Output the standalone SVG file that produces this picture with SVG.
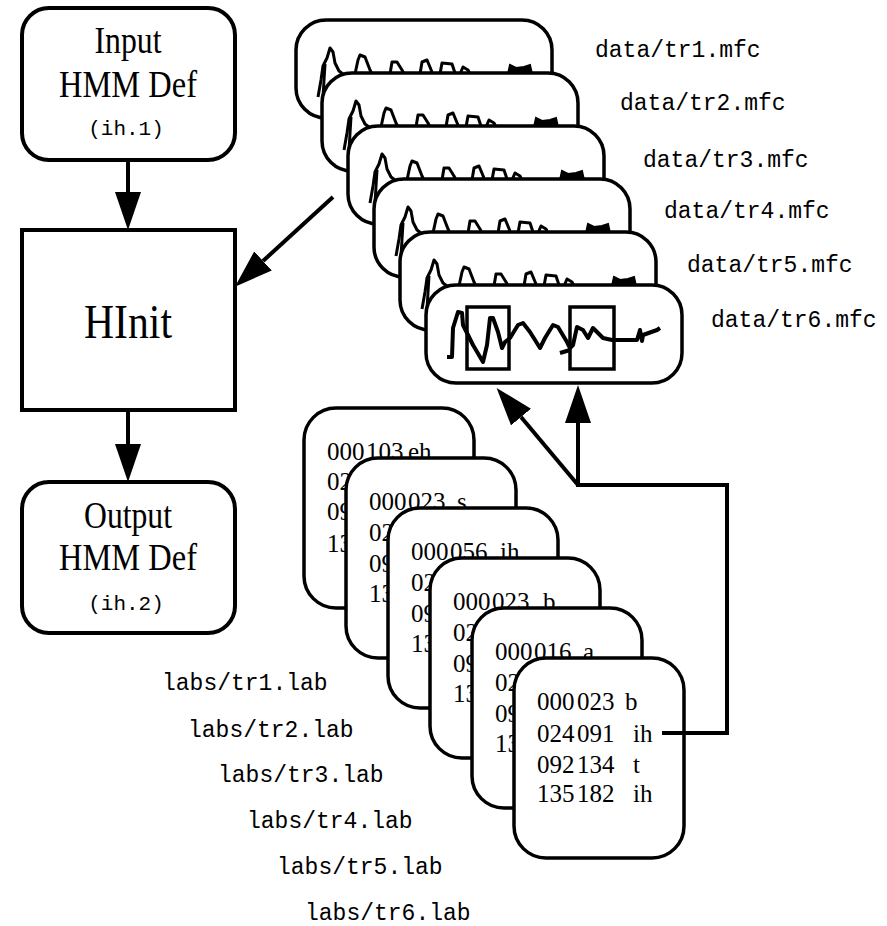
<svg xmlns="http://www.w3.org/2000/svg" width="887" height="926" viewBox="0 0 887 926">
<defs>
<style>
.box{fill:#fff;stroke:#000;stroke-width:4}
.card{fill:#fff;stroke:#000;stroke-width:3.5}
.wave{fill:none;stroke:#000;stroke-width:3;stroke-linejoin:round}
.wave6{fill:none;stroke:#000;stroke-width:4;stroke-linejoin:round}
.sel{fill:none;stroke:#000;stroke-width:3.5}
.serif{font-family:"Liberation Serif","Times New Roman",serif;fill:#000}
.mono{font-family:"Liberation Mono","Courier New",monospace;fill:#000}
.big{font-size:38px}
.lab{font-size:25px}
.fname{font-size:23px}
.conn{fill:none;stroke:#000;stroke-width:4}
</style>
<marker id="ah" markerUnits="userSpaceOnUse" viewBox="0 0 40 28" markerWidth="40" markerHeight="28" refX="0" refY="13" orient="auto">
<path d="M0,0 L38,13 L0,26 Z" fill="#000"/>
</marker>
<g id="wf">
<path class="wave" d="M22,77 L25,60 L27,46 L31,38 L34,28 L37,32 L39,43 L43,51 L47,54"/>
<path class="wave" d="M29,44 L27,77"/>
<path class="wave" d="M59,54 L62,40 L64,35 L69,37 L74,50 L76,54"/>
<path class="wave" d="M94,54 L96,42 L101,42 L106,50 L108,54"/>
<path class="wave" d="M124,54 L126,42 L131,40 L136,52"/>
<path class="wave" d="M144,54 L146,43 L156,44 L159,53"/>
<path class="wave" d="M164,54 L167,47 L172,50 L174,54"/>
<path d="M212,54 L214,45 L220,48 L228,47 L234,45 L236,54 Z" fill="#000" stroke="#000" stroke-width="2"/>
</g>
</defs>
<rect width="887" height="926" fill="#fff"/>

<g id="input-hmm">
<rect class="box" x="22" y="8" width="213" height="152" rx="27"/>
<text class="serif big" x="128" y="53" text-anchor="middle" textLength="67" lengthAdjust="spacingAndGlyphs">Input</text>
<text class="serif big" x="128" y="97" text-anchor="middle" textLength="138" lengthAdjust="spacingAndGlyphs">HMM Def</text>
<text class="mono" x="126" y="135" font-size="21" text-anchor="middle">(ih.1)</text>
</g>

<g id="hinit">
<rect class="box" x="22" y="230" width="213" height="180"/>
<text class="serif" x="128" y="338" font-size="48" text-anchor="middle" textLength="88" lengthAdjust="spacingAndGlyphs">HInit</text>
</g>

<g id="output-hmm">
<rect class="box" x="22" y="482" width="213" height="151" rx="27"/>
<text class="serif big" x="128" y="528" text-anchor="middle" textLength="88" lengthAdjust="spacingAndGlyphs">Output</text>
<text class="serif big" x="128" y="570" text-anchor="middle" textLength="138" lengthAdjust="spacingAndGlyphs">HMM Def</text>
<text class="mono" x="126" y="610" font-size="21" text-anchor="middle">(ih.2)</text>
</g>

<g id="data-tr1">
<rect class="card" x="296" y="20" width="256" height="98" rx="30"/>
<use href="#wf" transform="translate(296,20)"/>
<text class="mono fname" x="595" y="57">data/tr1.mfc</text>
</g>
<g id="data-tr2">
<rect class="card" x="322" y="73" width="256" height="98" rx="30"/>
<use href="#wf" transform="translate(322,73)"/>
<text class="mono fname" x="620" y="110">data/tr2.mfc</text>
</g>
<g id="data-tr3">
<rect class="card" x="348" y="126" width="256" height="98" rx="30"/>
<use href="#wf" transform="translate(348,126)"/>
<text class="mono fname" x="643" y="167">data/tr3.mfc</text>
</g>
<g id="data-tr4">
<rect class="card" x="374" y="179" width="256" height="98" rx="30"/>
<use href="#wf" transform="translate(374,179)"/>
<text class="mono fname" x="664" y="218">data/tr4.mfc</text>
</g>
<g id="data-tr5">
<rect class="card" x="400" y="232" width="256" height="98" rx="30"/>
<use href="#wf" transform="translate(400,232)"/>
<text class="mono fname" x="687" y="272">data/tr5.mfc</text>
</g>
<g id="data-tr6">
<rect class="card" x="426" y="285" width="256" height="98" rx="30"/>
<g transform="translate(426,285)">
<path class="wave6" d="M21,72 L26,72 L27,43 L32,27 L36,28 L37,40 L47,60 L57,77 L61,60 L64,33 L67,33 L72,47 L76,63 L79,57 L84,53 L92,40 L97,38 L104,47 L114,63 L119,53 L127,40 L132,42 L141,57 L144,63 L147,60 L151,42 L157,45 L162,53 L167,43 L172,48 L177,53 L186,55 L211,55 L214,45 L216,56 L217,50 L231,45 L234,43"/>
<path class="wave6" d="M134,68 L144,65"/>
<rect class="sel" x="41" y="22" width="42" height="62"/>
<rect class="sel" x="144" y="22" width="44" height="62"/>
</g>
<text class="mono fname" x="711" y="327">data/tr6.mfc</text>
</g>

<g id="labs-tr1">
<rect class="card" x="304" y="408" width="170" height="200" rx="32"/>
<text class="serif lab" x="327" y="460">000</text>
<text class="serif lab" x="366" y="460">103</text>
<text class="serif lab" x="408" y="460">eh</text>
<text class="serif lab" x="327" y="490">02</text>
<text class="serif lab" x="327" y="520">09</text>
<text class="serif lab" x="327" y="552">13</text>
<text class="mono fname" x="162" y="690">labs/tr1.lab</text>
</g>
<g id="labs-tr2">
<rect class="card" x="346" y="458" width="170" height="200" rx="32"/>
<text class="serif lab" x="369" y="510">000</text>
<text class="serif lab" x="408" y="510">023</text>
<text class="serif lab" x="457" y="510">s</text>
<text class="serif lab" x="369" y="541">02</text>
<text class="serif lab" x="369" y="572">09</text>
<text class="serif lab" x="369" y="602">13</text>
<text class="mono fname" x="188" y="737">labs/tr2.lab</text>
</g>
<g id="labs-tr3">
<rect class="card" x="388" y="508" width="170" height="200" rx="32"/>
<text class="serif lab" x="411" y="560">000</text>
<text class="serif lab" x="450" y="560">056</text>
<text class="serif lab" x="500" y="560">ih</text>
<text class="serif lab" x="411" y="591">02</text>
<text class="serif lab" x="411" y="622">09</text>
<text class="serif lab" x="411" y="652">13</text>
<text class="mono fname" x="218" y="782">labs/tr3.lab</text>
</g>
<g id="labs-tr4">
<rect class="card" x="430" y="558" width="170" height="200" rx="32"/>
<text class="serif lab" x="453" y="610">000</text>
<text class="serif lab" x="492" y="610">023</text>
<text class="serif lab" x="543" y="610">b</text>
<text class="serif lab" x="453" y="641">02</text>
<text class="serif lab" x="453" y="672">09</text>
<text class="serif lab" x="453" y="702">13</text>
<text class="mono fname" x="247" y="828">labs/tr4.lab</text>
</g>
<g id="labs-tr5">
<rect class="card" x="472" y="608" width="170" height="200" rx="32"/>
<text class="serif lab" x="495" y="660">000</text>
<text class="serif lab" x="534" y="660">016</text>
<text class="serif lab" x="583" y="660">a</text>
<text class="serif lab" x="495" y="691">02</text>
<text class="serif lab" x="495" y="722">09</text>
<text class="serif lab" x="495" y="752">13</text>
<text class="mono fname" x="277" y="874">labs/tr5.lab</text>
</g>
<g id="labs-tr6">
<rect class="card" x="514" y="658" width="170" height="200" rx="32"/>
<text class="serif lab" x="537" y="710">000</text>
<text class="serif lab" x="577" y="710">023</text>
<text class="serif lab" x="625" y="710">b</text>
<text class="serif lab" x="537" y="742">024</text>
<text class="serif lab" x="577" y="742">091</text>
<text class="serif lab" x="633" y="742">ih</text>
<text class="serif lab" x="537" y="773">092</text>
<text class="serif lab" x="577" y="773">134</text>
<text class="serif lab" x="633" y="773">t</text>
<text class="serif lab" x="537" y="802">135</text>
<text class="serif lab" x="577" y="802">182</text>
<text class="serif lab" x="633" y="802">ih</text>
<text class="mono fname" x="305" y="920">labs/tr6.lab</text>
</g>

<g id="connectors">
<path class="conn" d="M128,160 L128,192" marker-end="url(#ah)"/>
<path class="conn" d="M128,410 L128,444" marker-end="url(#ah)"/>
<path class="conn" d="M333,197 L263,261" marker-end="url(#ah)"/>
<path class="conn" d="M662,733 L727,733 L727,485 L578,485 L578,423" marker-end="url(#ah)"/>
<path class="conn" d="M578,485 L521,417" marker-end="url(#ah)"/>
</g>
</svg>
